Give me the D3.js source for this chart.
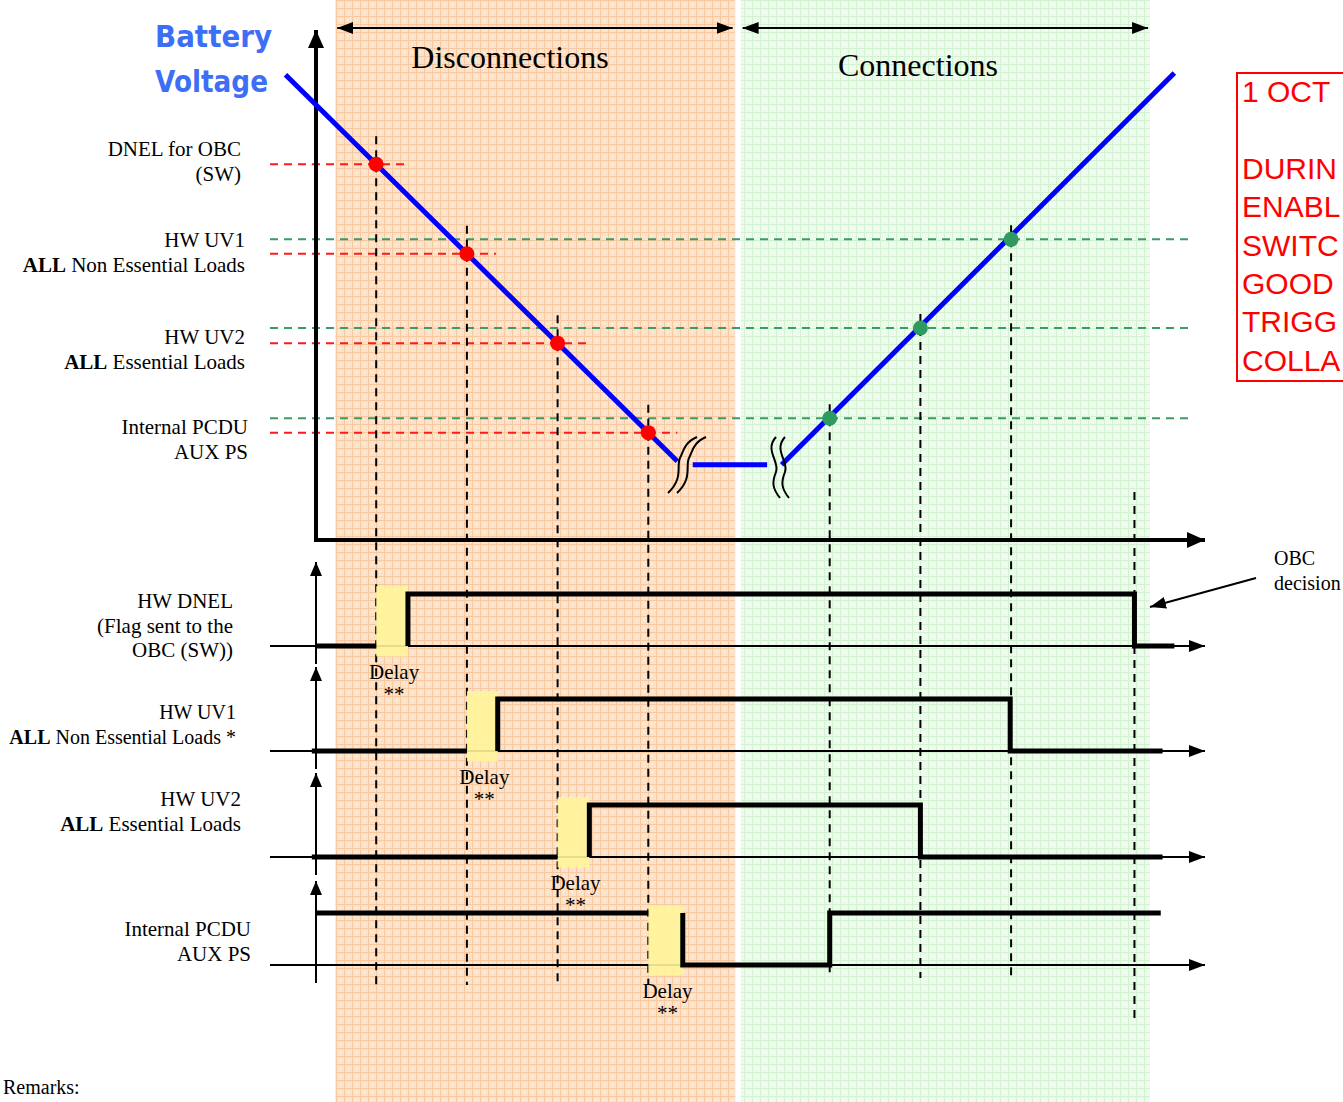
<!DOCTYPE html>
<html><head><meta charset="utf-8">
<script src="https://cdn.jsdelivr.net/npm/d3@7"></script>
<style>
html,body{margin:0;padding:0;background:#fff;overflow:hidden}
text{font-family:"Liberation Serif","Times New Roman",serif;fill:#000}
</style></head>
<body><svg id="c" width="1343" height="1102"></svg>
<script>
// ---------- data ----------
const phaseNames = ["Disconnections", "Connections"];
const phaseSpan = [[0.55, 4.96], [5.02, 9.53]];      // time units
const phaseArrow = [[0.57, 4.93], [5.04, 9.51]];
const thresholdNames = [["DNEL for OBC", "(SW)"], ["HW UV1", "ALL| Non Essential Loads"], ["HW UV2", "ALL| Essential Loads"], ["Internal PCDU", "AUX PS"]];
const disconnectV = [27, 26, 25, 24];                  // volts (arbitrary)
const connectV = [null, 26.16, 25.17, 24.16];
const disconnectT = [1, 2, 3, 4];
const connectT = [null, 8, 7, 6];
const obcDecisionT = 9.36;
const voltageDown = [[0, 28], [4.32, 23.68]];
const voltageFlat = [[4.49, 23.64], [5.31, 23.64]];
const voltageUp = [[5.47, 23.64], [9.8, 28.02]];
const signalNames = [["HW DNEL", "(Flag sent to the", "OBC (SW))"], ["HW UV1", "ALL| Non Essential Loads *"], ["HW UV2", "ALL| Essential Loads"], ["Internal PCDU", "AUX PS"]];
const signalSteps = [
  [[0.34, 0], [1, 0], null, [1.35, 0], [1.35, 1], [9.36, 1], [9.36, 0], [9.8, 0]],
  [[0.29, 0], [2, 0], null, [2.34, 0], [2.34, 1], [7.99, 1], [7.99, 0], [9.67, 0]],
  [[0.29, 0], [3, 0], null, [3.35, 0], [3.35, 1], [7, 1], [7, 0], [9.67, 0]],
  [[0.34, 1], [4, 1], null, [4.38, 1], [4.38, 0], [6, 0], [6, 1], [9.65, 1]]
];
const delays = [[1, 1.35], [2, 2.34], [3, 3.35], [4, 4.38]];
const noteLines = ["1 OCT", "", "DURIN", "ENABL", "SWITC", "GOOD", "TRIGG", "COLLA"];
const obcNote = ["OBC", "decision"];

// ---------- scales ----------
const x = d3.scaleLinear().domain([0, 10]).range([285.5, 1192.5]);
const v = d3.scaleLinear().domain([22.8, 28.5]).range([540, 30]);
const panelBase = [646, 751, 857, 965];
const panelY = panelBase.map(b => d3.scaleLinear().domain([0, 1]).range([b, b - 52]));

const svg = d3.select("#c");
const defs = svg.append("defs");

// background patterns
function gridPat(id, base, line) {
  const p = defs.append("pattern").attr("id", id).attr("width", 8).attr("height", 8).attr("patternUnits", "userSpaceOnUse");
  p.append("rect").attr("width", 8).attr("height", 8).attr("fill", base);
  p.append("path").attr("d", "M0,0.5H8M0.5,0V8").attr("stroke", line).attr("stroke-width", 1);
  p.append("rect").attr("x", 3).attr("y", 3).attr("width", 2).attr("height", 2).attr("fill", "#fff").attr("opacity", 0.35);
}
gridPat("po", "#fde2ca", "#f8c9a0");
gridPat("pg", "#edfbec", "#d3f2d2");

function marker(id, w, h) {
  defs.append("marker").attr("id", id).attr("viewBox", `0 -${h/2} ${w} ${h}`).attr("refX", w).attr("refY", 0)
    .attr("markerWidth", w).attr("markerHeight", h).attr("markerUnits", "userSpaceOnUse").attr("orient", "auto-start-reverse")
    .append("path").attr("d", `M0,-${h/2}L${w},0L0,${h/2}Z`).attr("fill", "#000");
}
marker("ah", 16, 12);
marker("ahBig", 18, 16);
marker("ahTop", 14, 12);

// background regions
svg.selectAll("rect.phase").data(phaseSpan).join("rect").attr("class", "phase")
  .attr("x", d => x(d[0])).attr("y", 0).attr("width", d => x(d[1]) - x(d[0])).attr("height", 1102)
  .attr("fill", (d, i) => i === 0 ? "url(#po)" : "url(#pg)");

// phase arrows & titles
svg.selectAll("line.parr").data(phaseArrow).join("line")
  .attr("x1", d => x(d[0])).attr("x2", d => x(d[1])).attr("y1", 28).attr("y2", 28)
  .attr("stroke", "#000").attr("stroke-width", 2)
  .attr("marker-start", "url(#ah)").attr("marker-end", "url(#ah)");
svg.selectAll("text.ptitle").data(phaseNames).join("text")
  .attr("x", (d, i) => i === 0 ? 510 : 918).attr("y", (d, i) => i === 0 ? 68 : 76)
  .attr("text-anchor", "middle").attr("font-size", 32).text(d => d);

// Battery Voltage title
svg.selectAll("text.bt").data(["Battery", "Voltage"]).join("text")
  .attr("x", (d, i) => i === 0 ? 272 : 268).attr("y", (d, i) => i === 0 ? 47 : 92)
  .attr("text-anchor", "end").attr("font-size", 30).attr("font-weight", "bold")
  .style("font-family", "'DejaVu Sans',sans-serif").style("fill", "#3d6ef5")
  .attr("textLength", (d, i) => i === 0 ? 117 : 113).attr("lengthAdjust", "spacingAndGlyphs").text(d => d);

// threshold lines
disconnectV.forEach((val, i) => {
  svg.append("line").attr("x1", 270).attr("x2", x(disconnectT[i]) + 29).attr("y1", v(val)).attr("y2", v(val))
    .attr("stroke", "#ff1a1a").attr("stroke-width", 2).attr("stroke-dasharray", "8,6");
  if (connectV[i] != null) {
    svg.append("line").attr("x1", 270).attr("x2", 1190).attr("y1", v(connectV[i])).attr("y2", v(connectV[i]))
      .attr("stroke", "#3a9a6a").attr("stroke-width", 2).attr("stroke-dasharray", "8,6");
  }
});

// threshold labels
const thrRight = [241, 245, 245, 248];
const thrY = [156, 247, 344, 434];
function multiLabel(lines, xr, y0, dy, fs) {
  const t = svg.append("text").attr("text-anchor", "end").attr("font-size", fs || 21);
  lines.forEach((ln, k) => {
    const ts = t.append("tspan").attr("x", xr).attr("y", y0 + k * dy);
    if (ln.includes("|")) {
      const [b, r] = ln.split("|");
      ts.append("tspan").attr("font-weight", "bold").text(b);
      ts.append("tspan").text(r);
    } else ts.text(ln);
  });
}
thresholdNames.forEach((lines, i) => multiLabel(lines, thrRight[i], thrY[i], 25));

// vertical dashed lines
const vlines = [];
disconnectT.forEach((t, i) => vlines.push({ t, y1: v(disconnectV[i]) - 28, y2: 985 }));
connectT.forEach((t, i) => { if (t != null) vlines.push({ t, y1: v(connectV[i]) - 14, y2: 978 }); });
vlines.push({ t: obcDecisionT, y1: 492, y2: 1020 });
svg.selectAll("line.vd").data(vlines).join("line")
  .attr("x1", d => x(d.t)).attr("x2", d => x(d.t)).attr("y1", d => d.y1).attr("y2", d => d.y2)
  .attr("stroke", "#000").attr("stroke-width", 2).attr("stroke-dasharray", "8,6");

// main axes
svg.append("line").attr("x1", 316).attr("x2", 316).attr("y1", 542).attr("y2", 30)
  .attr("stroke", "#000").attr("stroke-width", 4).attr("marker-end", "url(#ahBig)");
svg.append("line").attr("x1", 314).attr("x2", 1205).attr("y1", 540).attr("y2", 540)
  .attr("stroke", "#000").attr("stroke-width", 4).attr("marker-end", "url(#ahBig)");

// battery voltage line
const vl = d3.line().x(d => x(d[0])).y(d => v(d[1]));
[voltageDown, voltageFlat, voltageUp].forEach(seg => {
  svg.append("path").attr("d", vl(seg)).attr("fill", "none").attr("stroke", "#0000ff").attr("stroke-width", 5);
});

// break symbols
const brk = [
  "M668,493 C684,478 676,466 680,458 S684,443 697,437",
  "M776,437 C764,450 780,462 776,472 S772,488 780,498"
];
brk.forEach(d => {
  [0, 9].forEach(off => svg.append("path").attr("d", d).attr("transform", `translate(${off},0)`)
    .attr("fill", "none").attr("stroke", "#000").attr("stroke-width", 2));
});

// dots
svg.selectAll("circle.rd").data(disconnectT).join("circle")
  .attr("cx", d => x(d)).attr("cy", (d, i) => v(disconnectV[i])).attr("r", 7.5).attr("fill", "#ff0000");
svg.selectAll("circle.gd").data(connectT.map((t, i) => [t, connectV[i]]).filter(d => d[0] != null)).join("circle")
  .attr("cx", d => x(d[0])).attr("cy", d => v(d[1])).attr("r", 7.5).attr("fill", "#2e9a60");

// timing panels
const sigRight = [233, 236, 241, 251];
const sigY0 = [608, 719, 806, 936];
const sigFont = [21, 20, 21, 21];
const step = d3.line().defined(d => d != null);
signalSteps.forEach((steps, i) => {
  const py = panelY[i], base = panelBase[i];
  svg.append("line").attr("x1", 270).attr("x2", 1205).attr("y1", base).attr("y2", base)
    .attr("stroke", "#000").attr("stroke-width", 2).attr("marker-end", "url(#ah)");
  svg.append("line").attr("x1", 316).attr("x2", 316).attr("y1", base + 18).attr("y2", base - 84)
    .attr("stroke", "#000").attr("stroke-width", 2).attr("marker-end", "url(#ahTop)");
  const dl = delays[i];
  svg.append("rect").attr("x", x(dl[0])).attr("width", x(dl[1]) - x(dl[0]))
    .attr("y", py(1.15)).attr("height", py(-0.2) - py(1.15)).attr("fill", "#fff59a").attr("opacity", 0.9);
  step.x(d => x(d[0])).y(d => py(d[1]));
  svg.append("path").attr("d", step(steps)).attr("fill", "none").attr("stroke", "#000").attr("stroke-width", 5);
  const cx = (x(dl[0]) + x(dl[1])) / 2 + 2;
  svg.append("text").attr("x", cx).attr("y", base + 33).attr("text-anchor", "middle").attr("font-size", 21).text("Delay");
  svg.append("text").attr("x", cx).attr("y", base + 55).attr("text-anchor", "middle").attr("font-size", 21).text("**");
  multiLabel(signalNames[i], sigRight[i], sigY0[i], i === 0 ? 24.5 : 25, sigFont[i]);
});

// OBC decision
svg.append("line").attr("x1", 1256).attr("y1", 578).attr("x2", 1150).attr("y2", 607)
  .attr("stroke", "#000").attr("stroke-width", 2).attr("marker-end", "url(#ah)");
svg.selectAll("text.obc").data(obcNote).join("text").attr("x", 1274).attr("y", (d, i) => 565 + i * 25)
  .attr("font-size", 20).text(d => d);

// red note box
svg.append("rect").attr("x", 1237).attr("y", 73).attr("width", 140).attr("height", 308)
  .attr("fill", "none").attr("stroke", "#ff0000").attr("stroke-width", 2);
svg.selectAll("text.note").data(noteLines).join("text").attr("x", 1242).attr("y", (d, i) => 102 + i * 38.4)
  .attr("font-size", 30).style("font-family", "'Liberation Sans',Arial,sans-serif").style("fill", "#ff0000").text(d => d);

// remarks
svg.append("text").attr("x", 3).attr("y", 1094).attr("font-size", 20).text("Remarks:");
</script></body></html>
